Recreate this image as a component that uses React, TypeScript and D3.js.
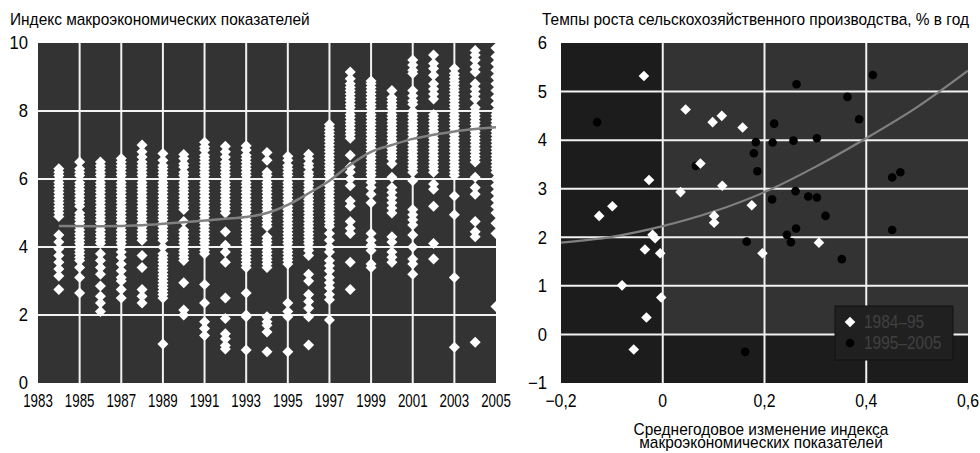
import React from "react";
import * as d3 from "d3";

// ---------- Left panel data: macro index by year (one list per year) ----------
const idx1984 = [6.3, 6.2, 6.1, 6.0, 5.9, 5.8, 5.7, 5.6, 5.5, 5.4, 5.3, 5.2, 5.1, 5.0, 4.9, 4.35, 4.15, 3.95, 3.75, 3.55, 3.35, 3.15, 2.75];
const idx1985 = [6.5, 6.3, 6.2, 6.1, 5.9, 5.8, 5.7, 5.6, 5.5, 5.4, 5.3, 5.2, 5.0, 4.9, 4.8, 4.7, 4.6, 4.5, 4.4, 4.3, 4.2, 4.1, 4.0, 3.9, 3.8, 3.7, 3.6, 3.4, 3.1, 2.65];
const idx1986 = [6.5, 6.4, 6.3, 6.2, 6.1, 6.0, 5.9, 5.8, 5.7, 5.6, 5.5, 5.4, 5.3, 5.2, 5.1, 5.0, 4.9, 4.8, 4.7, 4.6, 4.5, 4.4, 4.3, 4.2, 4.1, 3.8, 3.6, 3.4, 3.2, 2.85, 2.55, 2.35, 2.1];
const idx1987 = [6.6, 6.5, 6.4, 6.3, 6.2, 6.1, 6.0, 5.9, 5.8, 5.7, 5.6, 5.5, 5.4, 5.3, 5.2, 5.1, 5.0, 4.9, 4.8, 4.7, 4.6, 4.5, 4.4, 4.3, 4.2, 4.1, 4.0, 3.85, 3.7, 3.5, 3.3, 3.1, 3.0, 2.75, 2.5];
const idx1988 = [7.0, 6.8, 6.65, 6.5, 6.4, 6.3, 6.2, 6.1, 6.0, 5.9, 5.8, 5.7, 5.6, 5.5, 5.4, 5.3, 5.2, 5.1, 5.0, 4.9, 4.8, 4.7, 4.6, 4.5, 4.4, 4.3, 4.2, 3.75, 3.4, 2.75, 2.55, 2.35];
const idx1989 = [6.75, 6.55, 6.4, 6.3, 6.2, 6.1, 6.0, 5.9, 5.8, 5.7, 5.6, 5.5, 5.4, 5.3, 5.2, 5.1, 5.0, 4.9, 4.8, 4.7, 4.6, 4.5, 4.4, 4.3, 4.2, 4.0, 3.8, 3.7, 3.6, 3.5, 3.4, 3.3, 3.2, 3.1, 3.0, 2.9, 2.8, 2.7, 2.6, 2.5, 1.15];
const idx1990 = [6.72, 6.6, 6.45, 6.35, 6.2, 6.1, 6.0, 5.9, 5.8, 5.7, 5.6, 5.5, 5.4, 5.3, 5.2, 5.1, 4.75, 4.5, 4.4, 4.3, 4.2, 4.1, 4.0, 3.9, 3.8, 3.7, 3.6, 2.95, 2.15, 2.0];
const idx1991 = [7.08, 6.95, 6.85, 6.7, 6.6, 6.5, 6.4, 6.3, 6.2, 6.1, 6.0, 5.9, 5.8, 5.7, 5.6, 5.5, 5.4, 5.3, 5.2, 5.1, 5.0, 4.9, 4.8, 4.7, 4.6, 4.5, 4.4, 4.3, 4.2, 4.1, 4.0, 3.9, 3.8, 2.9, 2.35, 1.8, 1.6, 1.4];
const idx1992 = [6.96, 6.8, 6.65, 6.5, 6.4, 6.3, 6.2, 6.1, 6.0, 5.9, 5.8, 5.7, 5.6, 5.5, 5.4, 5.3, 5.2, 5.1, 5.0, 4.45, 4.05, 3.85, 3.55, 2.5, 1.9, 1.45, 1.3, 1.1, 1.0];
const idx1993 = [6.98, 6.85, 6.7, 6.6, 6.5, 6.4, 6.3, 6.2, 6.1, 6.0, 5.9, 5.8, 5.7, 5.6, 5.5, 5.4, 5.3, 5.2, 5.1, 5.0, 4.9, 4.8, 4.7, 4.6, 4.5, 4.4, 4.3, 4.2, 4.1, 4.0, 3.9, 3.8, 3.7, 3.6, 3.5, 3.4, 2.65, 2.0, 1.95, 0.97];
const idx1994 = [6.78, 6.55, 6.2, 6.1, 6.0, 5.9, 5.8, 5.7, 5.6, 5.5, 5.4, 5.3, 5.2, 5.1, 5.0, 4.9, 4.8, 4.7, 4.6, 4.3, 4.2, 4.1, 4.0, 3.9, 3.8, 3.7, 3.6, 3.5, 3.4, 1.95, 1.8, 1.7, 1.5, 0.92];
const idx1995 = [6.67, 6.55, 6.4, 6.3, 6.2, 6.1, 6.0, 5.9, 5.8, 5.7, 5.6, 5.5, 5.4, 5.3, 5.2, 5.1, 5.0, 4.9, 4.8, 4.7, 4.6, 4.5, 4.4, 4.3, 4.2, 4.1, 4.0, 3.9, 3.8, 3.7, 3.6, 3.5, 2.35, 2.1, 1.95, 0.92];
const idx1996 = [6.73, 6.6, 6.45, 6.35, 6.2, 6.1, 6.0, 5.9, 5.8, 5.7, 5.6, 5.5, 5.4, 5.3, 5.2, 5.1, 5.0, 4.9, 4.8, 4.7, 4.6, 4.5, 4.4, 4.3, 4.2, 4.1, 4.0, 3.9, 3.75, 3.2, 3.0, 2.6, 2.4, 2.2, 1.95, 1.12];
const idx1997 = [7.6, 7.5, 7.4, 7.3, 7.2, 7.1, 7.0, 6.9, 6.8, 6.7, 6.6, 6.5, 6.4, 6.3, 6.2, 6.1, 6.0, 5.9, 5.8, 5.7, 5.6, 5.5, 5.4, 5.3, 5.2, 5.1, 5.0, 4.9, 4.8, 4.7, 4.6, 4.4, 4.2, 4.0, 3.85, 3.6, 3.45, 3.3, 3.1, 2.95, 2.8, 2.6, 2.45, 1.85];
const idx1998 = [9.15, 8.95, 8.8, 8.7, 8.6, 8.5, 8.4, 8.3, 8.2, 8.1, 8.0, 7.9, 7.8, 7.7, 7.6, 7.5, 7.4, 7.3, 7.2, 6.7, 6.35, 6.2, 6.0, 5.8, 5.35, 5.2, 4.75, 4.55, 4.4, 3.55, 2.75];
const idx1999 = [8.88, 8.8, 8.7, 8.6, 8.5, 8.4, 8.3, 8.2, 8.1, 8.0, 7.9, 7.8, 7.7, 7.6, 7.5, 7.4, 7.3, 7.2, 7.1, 7.0, 6.9, 6.8, 6.7, 6.6, 6.5, 6.4, 6.3, 6.2, 6.1, 6.0, 5.9, 5.75, 5.55, 5.3, 4.4, 4.2, 4.05, 3.9, 3.5, 3.4];
const idx2000 = [8.6, 8.4, 8.3, 8.2, 8.1, 8.0, 7.9, 7.8, 7.7, 7.6, 7.5, 7.4, 7.3, 7.2, 7.1, 7.0, 6.9, 6.8, 6.7, 6.6, 6.45, 6.05, 5.75, 5.6, 5.45, 5.3, 5.15, 5.0, 4.3, 4.15, 3.85, 3.7, 3.55];
const idx2001 = [9.5, 9.35, 9.2, 9.1, 8.6, 8.45, 8.3, 8.2, 8.0, 7.9, 7.8, 7.7, 7.6, 7.5, 7.4, 7.3, 7.2, 7.1, 7.0, 6.9, 6.8, 6.7, 6.6, 6.5, 6.4, 6.3, 6.2, 5.95, 5.1, 4.95, 4.8, 4.65, 4.35, 4.0, 3.65, 3.5, 3.2];
const idx2002 = [9.65, 9.4, 9.25, 9.05, 8.8, 8.65, 8.5, 8.35, 7.9, 7.8, 7.7, 7.6, 7.5, 7.4, 7.3, 7.2, 7.1, 7.0, 6.9, 6.8, 6.7, 6.6, 6.5, 6.4, 6.3, 6.2, 5.85, 5.7, 5.2, 4.1, 3.65];
const idx2003 = [9.25, 9.1, 9.0, 8.9, 8.8, 8.7, 8.6, 8.5, 8.4, 8.3, 8.2, 8.1, 8.0, 7.9, 7.8, 7.7, 7.6, 7.5, 7.4, 7.3, 7.2, 7.1, 7.0, 6.9, 6.8, 6.7, 6.6, 6.5, 6.4, 6.3, 6.2, 6.1, 5.5, 4.95, 3.1, 1.05];
const idx2004 = [9.78, 9.65, 9.5, 9.3, 9.15, 8.8, 8.65, 8.5, 8.35, 8.1, 8.0, 7.9, 7.8, 7.7, 7.6, 7.5, 7.4, 7.3, 7.2, 7.1, 7.0, 6.9, 6.8, 6.7, 6.6, 6.5, 6.05, 5.75, 5.55, 4.75, 4.45, 4.3, 1.2];
const idx2005 = [9.85, 9.6, 9.4, 9.2, 9.0, 8.8, 8.6, 8.4, 8.2, 8.0, 7.9, 7.8, 7.7, 7.6, 7.5, 7.4, 7.3, 7.2, 7.1, 7.0, 6.9, 6.8, 6.7, 6.6, 6.5, 6.4, 6.3, 6.2, 6.0, 5.8, 5.6, 5.4, 5.2, 5.0, 4.7, 4.4, 2.25];

const yearColumns: [number, number[]][] = [
  [1984, idx1984], [1985, idx1985], [1986, idx1986], [1987, idx1987], [1988, idx1988],
  [1989, idx1989], [1990, idx1990], [1991, idx1991], [1992, idx1992], [1993, idx1993],
  [1994, idx1994], [1995, idx1995], [1996, idx1996], [1997, idx1997], [1998, idx1998],
  [1999, idx1999], [2000, idx2000], [2001, idx2001], [2002, idx2002], [2003, idx2003],
  [2004, idx2004], [2005, idx2005],
];

const leftTrendYears = [1984, 1986, 1988, 1990, 1992, 1993, 1994, 1995, 1996, 1997, 1998, 1999, 2000, 2001, 2002, 2003, 2004, 2005];
const leftTrendValues = [4.62, 4.61, 4.64, 4.73, 4.83, 4.88, 5.0, 5.24, 5.58, 5.95, 6.42, 6.8, 7.0, 7.18, 7.3, 7.4, 7.47, 7.52];

const leftXTicks = [1983, 1985, 1987, 1989, 1991, 1993, 1995, 1997, 1999, 2001, 2003, 2005];
const leftYTicks = [0, 2, 4, 6, 8, 10];
const leftTitle = "Индекс макроэкономических показателей";

// ---------- Right panel data ----------
const diamondsX = [-0.037, 0.045, 0.098, 0.116, 0.157, -0.027, 0.074, 0.035, 0.117, -0.125, -0.099, 0.101, 0.101, 0.175, -0.02, -0.015, -0.035, -0.005, -0.08, -0.003, -0.032, -0.057, 0.307, 0.196];
const diamondsY = [5.32, 4.63, 4.37, 4.5, 4.26, 3.18, 3.52, 2.93, 3.06, 2.44, 2.64, 2.44, 2.3, 2.66, 2.05, 1.98, 1.75, 1.67, 1.01, 0.76, 0.35, -0.31, 1.89, 1.67];
const circlesX = [-0.129, 0.065, 0.165, 0.162, 0.263, 0.413, 0.363, 0.386, 0.219, 0.183, 0.216, 0.257, 0.303, 0.179, 0.186, 0.451, 0.467, 0.261, 0.286, 0.303, 0.215, 0.32, 0.262, 0.244, 0.252, 0.352, 0.451];
const circlesY = [4.37, 3.47, 1.91, -0.36, 5.15, 5.34, 4.89, 4.43, 4.34, 3.96, 3.95, 3.99, 4.04, 3.73, 3.36, 3.23, 3.34, 2.95, 2.84, 2.82, 2.78, 2.44, 2.18, 2.05, 1.9, 1.55, 2.15];

const rightTrendX = [-0.2, -0.1, 0, 0.1, 0.2, 0.3, 0.4, 0.5, 0.6];
const rightTrendY = [1.89, 2.01, 2.23, 2.53, 2.93, 3.45, 4.04, 4.68, 5.43];

const rightXTicks = [-0.2, 0, 0.2, 0.4, 0.6];
const rightYTicks = [-1, 0, 1, 2, 3, 4, 5, 6];
const rightTitle = "Темпы роста сельскохозяйственного производства, % в год";
const rightXTitle = ["Среднегодовое изменение индекса", "макроэкономических показателей"];
const legendLabels = ["1984–95", "1995–2005"];

const FONT = '"Liberation Sans", Arial, Helvetica, sans-serif';
const diamond = (r: number) => `M0,${-r}L${r},0L0,${r}L${-r},0Z`;
const fmtNum = (v: number) => (v < 0 ? "−" : "") + (Math.abs(v) === 0 ? "0" : String(Math.abs(v)).replace(".", ","));

type TProps = {
  x: number;
  y: number;
  size: number;
  sx?: number;
  anchor?: "start" | "middle" | "end";
  fill?: string;
  dy?: string;
  children: React.ReactNode;
};
// Text in a condensed (horizontally squeezed) style, like the reference typeface
function T({ x, y, size, sx = 1, anchor = "start", fill = "#000", dy, children }: TProps) {
  return (
    <text
      transform={`translate(${x},${y}) scale(${sx},1)`}
      fontSize={size}
      textAnchor={anchor}
      fill={fill}
      dy={dy}
    >
      {children}
    </text>
  );
}

export default function App() {
  // Left scales
  const lx = d3.scaleLinear().domain([1983, 2005]).range([38, 496]);
  const ly = d3.scaleLinear().domain([0, 10]).range([383, 43]);
  // Right scales
  const rx = d3.scaleLinear().domain([-0.2, 0.6]).range([561, 968]);
  const ry = d3.scaleLinear().domain([-1, 6]).range([383, 43]);

  const leftLine = d3
    .line<number>()
    .x((_, i) => lx(leftTrendYears[i]))
    .y((d) => ly(d))
    .curve(d3.curveMonotoneX)(leftTrendValues) as string;

  const rightLine = d3
    .line<number>()
    .x((_, i) => rx(rightTrendX[i]))
    .y((d) => ry(d))
    .curve(d3.curveMonotoneX)(rightTrendY) as string;

  const gridColor = "#f2f2f2";

  return (
    <svg
      width={980}
      height={453}
      style={{ position: "absolute", left: 0, top: 0, background: "#fff" }}
      fontFamily={FONT}
    >
      <defs>
        <clipPath id="clipL">
          <rect x={38} y={43} width={458} height={340} />
        </clipPath>
        <clipPath id="clipR">
          <rect x={561} y={43} width={407} height={340} />
        </clipPath>
      </defs>

      {/* ---------------- Left panel ---------------- */}
      <T x={10} y={25} size={16.8} sx={0.92}>{leftTitle}</T>
      <rect x={38} y={43} width={458} height={340} fill="#333333" />
      <g clipPath="url(#clipL)">
        {leftYTicks.filter((t) => t > 0 && t < 10).map((t) => (
          <line key={"lh" + t} x1={38} x2={496} y1={ly(t)} y2={ly(t)} stroke={gridColor} strokeWidth={2} />
        ))}
        {leftXTicks.filter((t) => t > 1983 && t < 2005).map((t) => (
          <line key={"lv" + t} x1={lx(t)} x2={lx(t)} y1={43} y2={383} stroke={gridColor} strokeWidth={2} />
        ))}
        {yearColumns.map(([yr, vals]) =>
          vals.map((v, i) => (
            <path key={yr + "-" + i} d={diamond(5.5)} transform={`translate(${lx(yr)},${ly(v)})`} fill="#fff" />
          ))
        )}
        <path d={leftLine} fill="none" stroke="#808080" strokeWidth={2.5} />
      </g>
      {leftYTicks.map((t) => (
        <T key={"ly" + t} x={28} y={ly(t)} dy="0.36em" anchor="end" size={17.5} sx={0.95}>{t}</T>
      ))}
      {leftXTicks.map((t) => (
        <T key={"lx" + t} x={lx(t)} y={407} anchor="middle" size={18} sx={0.74}>{t}</T>
      ))}

      {/* ---------------- Right panel ---------------- */}
      <T x={542} y={25} size={16.8} sx={0.92}>{rightTitle}</T>
      <rect x={561} y={43} width={407} height={340} fill="#1c1c1c" />
      <rect x={rx(0)} y={ry(6)} width={rx(0.6) - rx(0)} height={ry(0) - ry(6)} fill="#333333" />
      <g clipPath="url(#clipR)">
        {rightYTicks.filter((t) => t > -1 && t < 6).map((t) => (
          <line key={"rh" + t} x1={561} x2={968} y1={ry(t)} y2={ry(t)} stroke={gridColor} strokeWidth={2} />
        ))}
        {rightXTicks.filter((t) => t > -0.2 && t < 0.6).map((t) => (
          <line key={"rv" + t} x1={rx(t)} x2={rx(t)} y1={43} y2={383} stroke={gridColor} strokeWidth={2} />
        ))}
        <path d={rightLine} fill="none" stroke="#808080" strokeWidth={2.2} />
        {circlesX.map((x, i) => (
          <circle key={"c" + i} cx={rx(x)} cy={ry(circlesY[i])} r={4.3} fill="#000" />
        ))}
        {diamondsX.map((x, i) => (
          <path key={"d" + i} d={diamond(5.3)} transform={`translate(${rx(x)},${ry(diamondsY[i])})`} fill="#fff" />
        ))}
      </g>
      {rightYTicks.map((t) => (
        <T key={"ry" + t} x={547} y={ry(t)} dy="0.36em" anchor="end" size={17.5} sx={0.95}>{fmtNum(t)}</T>
      ))}
      {rightXTicks.map((t) => (
        <T key={"rx" + t} x={rx(t)} y={407} anchor="middle" size={18} sx={0.88}>{fmtNum(t)}</T>
      ))}
      <T x={761} y={435} anchor="middle" size={16.8} sx={0.92}>{rightXTitle[0]}</T>
      <T x={761} y={448} anchor="middle" size={16.8} sx={0.92}>{rightXTitle[1]}</T>

      {/* Legend */}
      <rect x={835} y={306} width={118} height={54} fill="#202020" stroke="#111" strokeWidth={1} />
      <path d={diamond(5.3)} transform="translate(850,322)" fill="#fff" />
      <circle cx={850} cy={343} r={4.3} fill="#000" />
      <T x={864} y={328} size={18} sx={0.86} fill="#404040">{legendLabels[0]}</T>
      <T x={864} y={349} size={18} sx={0.86} fill="#404040">{legendLabels[1]}</T>
    </svg>
  );
}
